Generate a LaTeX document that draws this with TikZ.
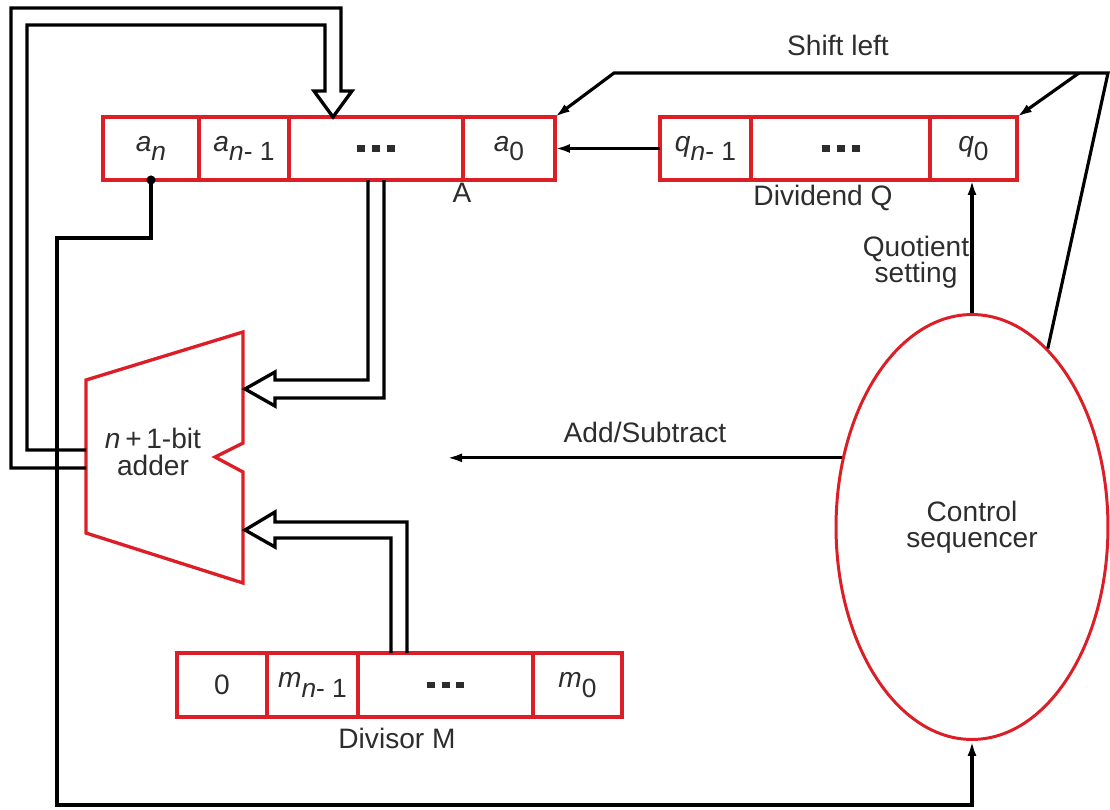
\documentclass[tikz,border=0pt]{standalone}
\usepackage{fontspec}
\setmainfont{Liberation Sans}
\usetikzlibrary{arrows.meta,shapes.geometric,calc}
\definecolor{regred}{RGB}{220,30,38}
\definecolor{inkgray}{RGB}{45,45,45}
\newcommand{\bitsub}[2]{\textit{#1}\raisebox{-0.65ex}{\fontsize{15}{15}\selectfont #2}}
\newcommand{\regdots}{\rule{0.16cm}{0.13cm}\hspace{0.14cm}\rule{0.16cm}{0.13cm}\hspace{0.14cm}\rule{0.16cm}{0.13cm}}

\begin{document}
\begin{tikzpicture}[x=0.02cm, y=-0.02cm,
  every node/.style={font=\fontsize{16}{15}\selectfont, text=inkgray},
  cell/.style={draw=regred, line width=1.9pt, minimum height=1.26cm, minimum width=#1,
               inner sep=0pt, outer sep=0pt},
  arrow/.style={-{Latex[length=0.3cm,width=0.18cm]}, line width=1.8pt},
  bus/.style={line width=1.9pt, line join=miter},
  unit/.style={draw=regred, line width=1.9pt, line join=miter}
]
\useasboundingbox (0,0) rectangle (1110,809);

% register A
\node[cell=1.92cm] (an)    at (151,148.5)   {\bitsub{a}{\textit{n}}};
\node[cell=1.80cm] (an1)   at (244,148.5)   {\bitsub{a}{\textit{n}- 1}};
\node[cell=3.48cm] (adots) at (376,148.5)   {\regdots};
\node[cell=1.84cm] (a0)    at (509,148.5)   {\bitsub{a}{0}};
\node (alabel) at (462,193) {A};

% register Q
\node[cell=1.82cm] (q1)    at (705.5,148.5) {\bitsub{q}{\textit{n}- 1}};
\node[cell=3.58cm] (qdots) at (840.5,148.5) {\regdots};
\node[cell=1.74cm] (q0)    at (973.5,148.5) {\bitsub{q}{0}};
\node (qlabel) at (823,198) {Dividend Q};

% register M
\node[cell=1.80cm, minimum height=1.28cm] (mz)    at (222,685)   {0};
\node[cell=1.82cm, minimum height=1.28cm] (m1)    at (312.5,685) {\bitsub{m}{\textit{n}- 1}};
\node[cell=3.50cm, minimum height=1.28cm] (mdots) at (445.5,685) {\regdots};
\node[cell=1.78cm, minimum height=1.28cm] (m0)    at (577.5,685) {\bitsub{m}{0}};
\node (mlabel) at (397,738) {Divisor M};

% adder
\draw[unit] (86,380) -- (243,332) -- (243,443) -- (215,457) -- (243,472) -- (243,583) -- (86,533) -- cycle;
\node[align=center] (adder) at (153,452) {\textit{n}\,+\,1-bit\\adder};
\coordinate (addin1)  at (245,389);
\coordinate (addin2)  at (245,530);
\coordinate (addout1) at (86,450);
\coordinate (addout2) at (86,468);

% control
\node[ellipse, draw=regred, line width=1.7pt, minimum width=5.44cm, minimum height=8.5cm,
      inner sep=0pt, align=center] (ctrl) at (972,527) {Control\\sequencer};

% buses
\draw[bus] (addout2) -- (11,468) -- (11,8) -- (341,8) -- (341,91) -- (352,91)
  -- ($(adots.north)+(-43,0)$) -- (314,91) -- (325,91) -- (325,25) -- (27,25) -- (27,450) -- (addout1);
\draw[bus] ($(adots.south)+(-8,0)$) |- (275,380) -- (275,372) -- (addin1) -- (275,406)
  -- (275,398) -| ($(adots.south)+(8,0)$);
\draw[bus] ($(mdots.north)+(-54.5,0)$) |- (275,538) -- (275,547) -- (addin2) -- (275,512)
  -- (275,522) -| ($(mdots.north)+(-38.5,0)$);

% sign bit to control
\fill (an.south) circle[radius=2.6pt];
\draw[arrow] (an.south) |- (57,238) -- (57,805) -| (ctrl.south);

% dividend into A
\draw[arrow] (q1.west) -- (a0.east);

% shift left
\coordinate (shiftr) at (1108,73);
\coordinate (shiftl) at (614,73);
\coordinate (shiftq) at (1079,73);
\draw[arrow] (ctrl.67) -- (shiftr) -- (shiftl) -- (a0.north east);
\draw[arrow] (shiftq) -- (q0.north east);
\node (shiftlbl) at (838,45) {Shift left};

% quotient setting
\draw[arrow] (ctrl.north) -- (ctrl.north |- q0.south);
\node[align=center] (qslbl) at (916,262) {Quotient\\setting};

% add/subtract
\coordinate (addsub) at (447,458);
\draw[arrow] (ctrl.152) -- (ctrl.152 -| addsub);
\node (aslbl) at (645,432) {Add/Subtract};
\end{tikzpicture}
\end{document}
